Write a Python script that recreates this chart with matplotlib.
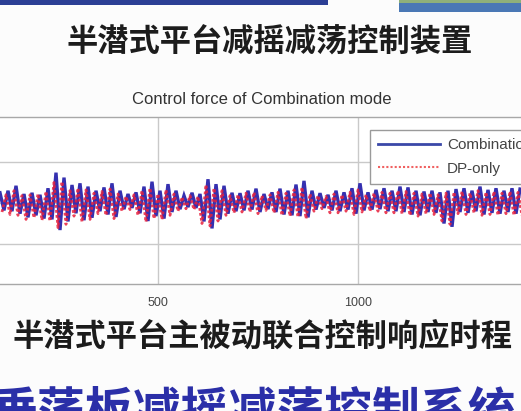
import matplotlib
matplotlib.use("Agg")
import matplotlib.pyplot as plt
from matplotlib.patches import Rectangle
from matplotlib.lines import Line2D

W, H = 521, 411

# ---- data ----
x_comb_start, x_step = 105, 10
comb = [0.25, -0.18, 0.30, -0.20, 0.42, -0.26, 0.22, -0.35, 0.25, -0.30,
        0.20, -0.38, 0.36, -0.40, 0.74, -0.66, 0.62, -0.45, 0.44, -0.25,
        0.48, -0.42, 0.40, -0.36, 0.30, -0.20, 0.38, -0.28, 0.48, -0.34,
        0.30, -0.15, 0.22, -0.12, 0.26, -0.25, 0.40, -0.44, 0.52, -0.32,
        0.30, -0.38, 0.46, -0.22, 0.30, -0.15, 0.18, -0.10, 0.25, -0.12,
        0.22, -0.45, 0.58, -0.62, 0.46, -0.40, 0.42, -0.26, 0.25, -0.20,
        0.24, -0.18, 0.30, -0.16, 0.35, -0.22, 0.22, -0.15, 0.26, -0.22,
        0.35, -0.28, 0.30, -0.30, 0.45, -0.32, 0.54, -0.35, 0.30, -0.16,
        0.24, -0.12, 0.20, -0.18, 0.30, -0.20, 0.26, -0.16, 0.36, -0.26,
        0.48, -0.18, 0.26, -0.16, 0.32, -0.15, 0.36, -0.20, 0.30, -0.20,
        0.40, -0.22, 0.38, -0.28, 0.30, -0.30, 0.28, -0.22, 0.30, -0.24,
        0.26, -0.50, 0.30, -0.58, 0.34, -0.22, 0.36, -0.24, 0.30, -0.20,
        0.40, -0.28, 0.32, -0.24, 0.36, -0.26, 0.30, -0.22, 0.36, -0.26,
        0.34]
dp_only = [-0.22, 0.20, -0.28, 0.30, -0.30, 0.18, -0.40, 0.20, -0.36, 0.22,
           -0.42, 0.28, -0.44, 0.50, -0.60, 0.52, -0.52, 0.30, -0.32, 0.36,
           -0.46, 0.32, -0.40, 0.24, -0.26, 0.28, -0.30, 0.34, -0.38, 0.22,
           -0.20, 0.16, -0.16, 0.20, -0.30, 0.30, -0.46, 0.36, -0.38, 0.22,
           -0.40, 0.32, -0.30, 0.22, -0.20, 0.14, -0.14, 0.18, -0.16, 0.16,
           -0.50, 0.44, -0.56, 0.36, -0.44, 0.30, -0.30, 0.18, -0.24, 0.20,
           -0.22, 0.24, -0.22, 0.26, -0.26, 0.18, -0.18, 0.20, -0.24, 0.26,
           -0.30, 0.24, -0.32, 0.32, -0.34, 0.38, -0.38, 0.22, -0.20, 0.18,
           -0.14, 0.16, -0.24, 0.22, -0.24, 0.20, -0.20, 0.26, -0.28, 0.32,
           -0.22, 0.20, -0.20, 0.24, -0.20, 0.26, -0.24, 0.24, -0.24, 0.30,
           -0.26, 0.28, -0.30, 0.24, -0.32, 0.22, -0.26, 0.24, -0.28, 0.20,
           -0.44, 0.24, -0.52, 0.26, -0.26, 0.28, -0.28, 0.24, -0.24, 0.30,
           -0.30, 0.26, -0.28, 0.28, -0.30, 0.24, -0.26, 0.28, -0.30, 0.26,
           -0.30]
x_dp_start = 110
x_comb = [x_comb_start + x_step * i for i in range(len(comb))]
x_dp = [x_dp_start + x_step * i for i in range(len(dp_only))]

xticks = [500, 1000]
xtick_labels = ["500", "1000"]
yticks = [-1, 0, 1]
series_names = ["Combination", "DP-only"]

title_top = "半潜式平台减摇减荡控制装置"
chart_title = "Control force of Combination mode"
caption = "半潜式平台主被动联合控制响应时程"
bottom_title = "垂荡板减摇减荡控制系统"

# ---- figure ----
fig = plt.figure(figsize=(W / 100, H / 100), dpi=100)
fig.patch.set_facecolor("#fcfcfc")

def fx(px):
    return px / W

def fy(py):
    return 1 - py / H

# decorative slide pieces at top
fig.patches.append(Rectangle((fx(0), fy(5)), fx(328), 5 / H, transform=fig.transFigure,
                             facecolor="#2c3f95", edgecolor="none"))
fig.patches.append(Rectangle((fx(399), fy(12)), fx(122), 12 / H, transform=fig.transFigure,
                             facecolor="#4a78b5", edgecolor="none"))
fig.patches.append(Rectangle((fx(399), fy(3)), fx(122), 3 / H, transform=fig.transFigure,
                             facecolor="#8fb07a", edgecolor="none"))

cjk = ["Noto Sans CJK SC", "DejaVu Sans"]
fig.text(fx(270), fy(43), title_top, ha="center", va="center", fontsize=22.5,
         fontweight="bold", family=cjk, color="#1c1c1c")
fig.text(fx(262), fy(337), caption, ha="center", va="center", fontsize=22.5,
         fontweight="bold", family=cjk, color="#1c1c1c")
fig.text(fx(516), fy(412), bottom_title, ha="right", va="center", fontsize=34.5,
         fontweight="bold", family=cjk, color="#2b2fa8")

# axes: visible portion px 0..521, y 117..284
ax = fig.add_axes([0, fy(284), 1, (284 - 117) / H])
ax.set_facecolor("white")
ax.plot(x_comb, comb, color="#3530b0", lw=2.4, solid_joinstyle="miter", zorder=3,
        label=series_names[0])
ax.plot(x_dp, dp_only, color="#e8203c", lw=2.0, ls=(0, (1, 0.8)), zorder=4, alpha=0.85,
        label=series_names[1])

ax.set_xlim(105, 105 + 521 / 0.4)
ax.set_ylim(-81 / 41, 86 / 41)
ax.set_xticks(xticks)
ax.set_xticklabels(xtick_labels, fontsize=9, color="#444444", family="Liberation Sans")
ax.set_yticks(yticks)
ax.set_yticklabels([])
ax.tick_params(length=0, pad=9)
ax.grid(True, color="#c9c9c9", lw=1.0)
for s in ["left", "right"]:
    ax.spines[s].set_visible(False)
for s in ["top", "bottom"]:
    ax.spines[s].set_color("#a8a8a8")
    ax.spines[s].set_linewidth(1.0)

fig.text(fx(262), fy(99), chart_title, ha="center", va="center", fontsize=12,
         family="Liberation Sans", color="#333333")

handles = [Line2D([], [], color="#3a48a8", lw=2.0),
           Line2D([], [], color="#f06060", lw=1.5, ls=(0, (1, 1)))]
leg = ax.legend(handles, series_names, loc="upper left",
                bbox_to_anchor=(fx(370), fy(130)), bbox_transform=fig.transFigure,
                prop={"family": "Liberation Sans", "size": 11},
                handlelength=4.0, handletextpad=0.5, labelspacing=0.6,
                borderpad=0.55, fancybox=False, framealpha=1, edgecolor="#9a9a9a",
                borderaxespad=0)
leg.get_frame().set_linewidth(1.0)
for t in leg.get_texts():
    t.set_color("#444444")

fig.savefig("out.png", dpi=100, facecolor=fig.get_facecolor())
